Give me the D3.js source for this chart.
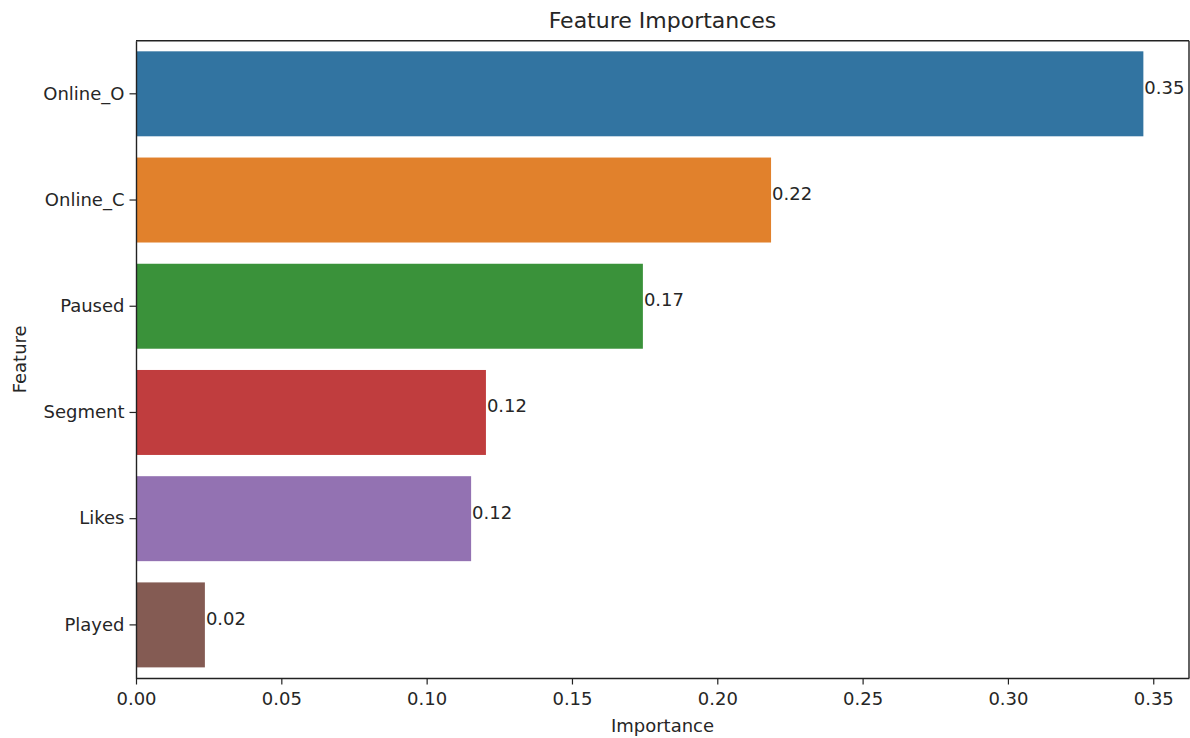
<!DOCTYPE html>
<html><head><meta charset="utf-8">
<script src="https://cdn.jsdelivr.net/npm/d3@7"></script>
<style>body{margin:0;background:#fff}text{font-family:"DejaVu Sans",sans-serif;fill:#262626}</style>
</head><body><svg id="c" width="1190" height="738"></svg>
<script>
const features = ["Online_O","Online_C","Paused","Segment","Likes","Played"];
const importances = [0.3466,0.2185,0.1744,0.1204,0.1153,0.0237];
const colors = ["#3274a1","#e1812c","#3a923a","#c03d3e","#9372b2","#845b53"];
const xTicks = [0,0.05,0.10,0.15,0.20,0.25,0.30,0.35];

const svg = d3.select("#c");
const m = {left:136, right:1189, top:40.7, bottom:678};
const x = d3.scaleLinear().domain([0,0.3623]).range([m.left,m.right]);
const y = d3.scaleBand().domain(features).range([m.top,m.bottom]).padding(0.2).paddingOuter(0.1);
const fs = 18;

svg.selectAll("rect.bar").data(features).join("rect").attr("class","bar")
  .attr("x",x(0)).attr("y",d=>y(d))
  .attr("width",(d,i)=>x(importances[i])-x(0)).attr("height",y.bandwidth())
  .attr("fill",(d,i)=>colors[i]);

svg.selectAll("text.val").data(features).join("text").attr("class","val")
  .attr("x",(d,i)=>x(importances[i])+1).attr("y",d=>y(d)+y.bandwidth()/2)
  .attr("font-size",fs).text((d,i)=>importances[i].toFixed(2));

const xa = svg.append("g").attr("transform",`translate(0,${m.bottom})`)
  .call(d3.axisBottom(x).tickValues(xTicks).tickFormat(d3.format(".2f")).tickSize(6.5).tickPadding(8).tickSizeOuter(0));
xa.selectAll("text").attr("font-size",fs).style("font-family","DejaVu Sans").attr("fill","#262626");
const ya = svg.append("g").attr("transform",`translate(${m.left},0)`)
  .call(d3.axisLeft(y).tickSize(6.5).tickPadding(5).tickSizeOuter(0));
ya.selectAll("text").attr("font-size",fs).style("font-family","DejaVu Sans").attr("fill","#262626");
svg.selectAll(".domain").attr("stroke","#222").attr("stroke-width",1.4);
svg.selectAll(".tick line").attr("stroke","#222").attr("stroke-width",1.2);

// top and right spines
svg.append("line").attr("x1",m.left).attr("x2",m.right).attr("y1",m.top).attr("y2",m.top).attr("stroke","#222").attr("stroke-width",1.4);
svg.append("line").attr("x1",m.right).attr("x2",m.right).attr("y1",m.top).attr("y2",m.bottom).attr("stroke","#222").attr("stroke-width",1.4);

svg.append("text").attr("x",(m.left+m.right)/2).attr("y",28).attr("text-anchor","middle").attr("font-size",22).text("Feature Importances");
svg.append("text").attr("x",(m.left+m.right)/2).attr("y",732).attr("text-anchor","middle").attr("font-size",fs).text("Importance");
svg.append("text").attr("transform",`translate(26,${(m.top+m.bottom)/2}) rotate(-90)`).attr("text-anchor","middle").attr("font-size",fs).text("Feature");
</script></body></html>
